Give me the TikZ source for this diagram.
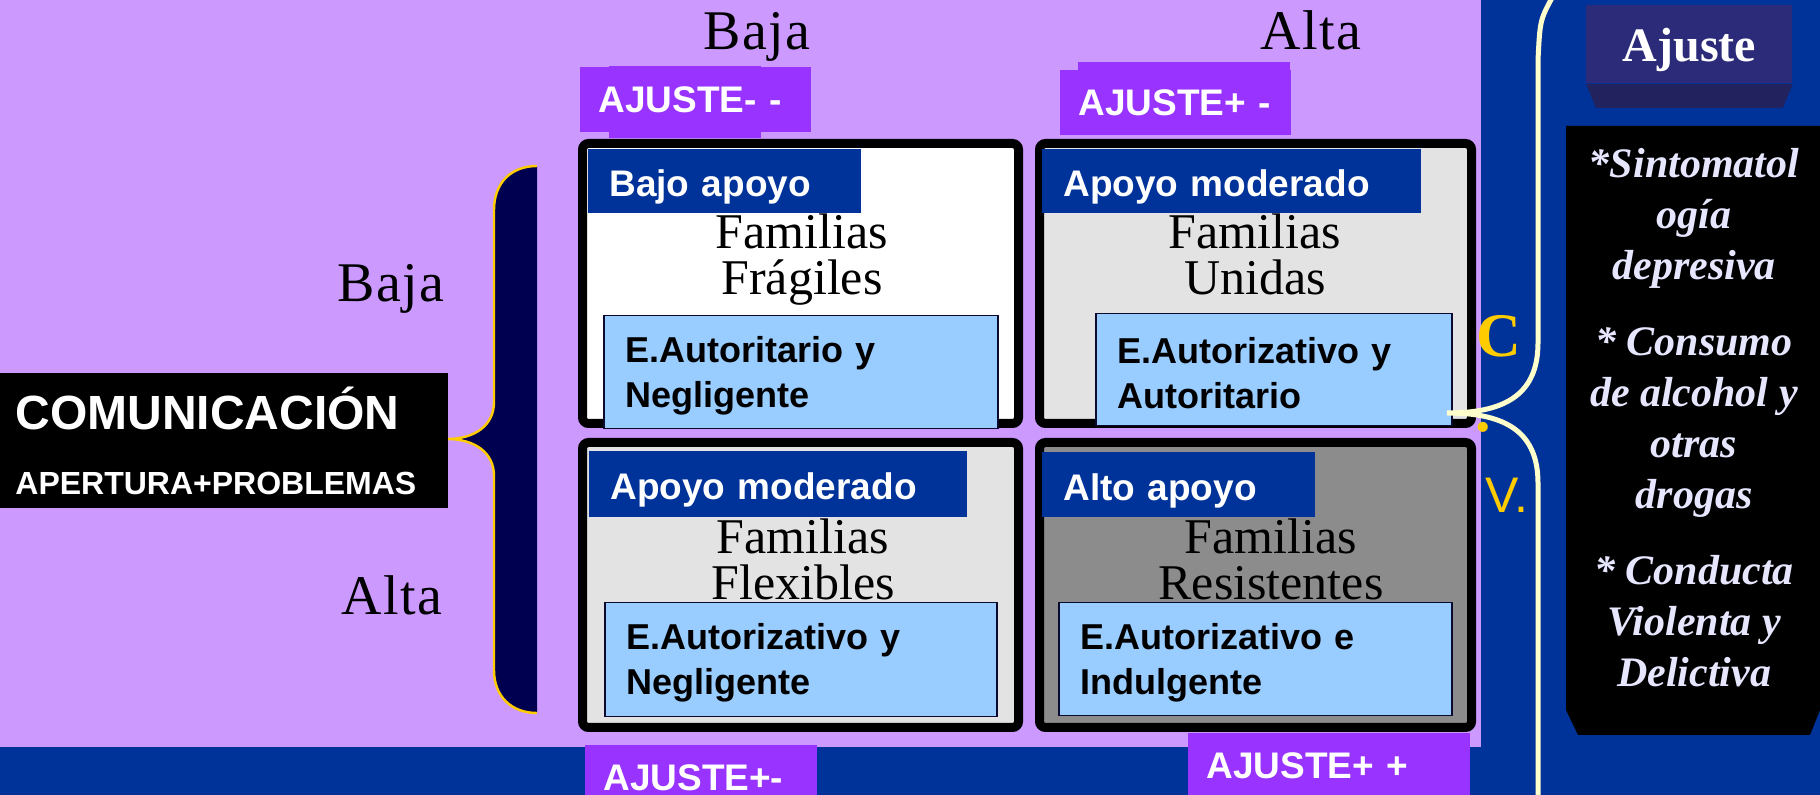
\documentclass[tikz,border=0pt]{standalone}
\usepackage{fontspec}
\setmainfont{Liberation Serif}
\setsansfont{Liberation Sans}
\usepackage{tikz}
\usetikzlibrary{positioning}

\definecolor{lavbg}{HTML}{CC99FF}
\definecolor{slideblue}{HTML}{003399}
\definecolor{tagpurple}{HTML}{9933FF}
\definecolor{hdrblue}{HTML}{003399}
\definecolor{styleblue}{HTML}{99CCFF}
\definecolor{styleline}{HTML}{0A0A30}
\definecolor{quadgray}{HTML}{E3E3E3}
\definecolor{quaddark}{HTML}{8C8C8C}
\definecolor{bracenavy}{HTML}{000050}
\definecolor{braceorange}{HTML}{FFCC00}
\definecolor{creambrace}{HTML}{FFFFCC}
\definecolor{ajusteind}{HTML}{2B2B7A}
\definecolor{ajustebevel}{HTML}{22225F}
\definecolor{listtext}{HTML}{E6E6FF}
\definecolor{cvyellow}{HTML}{FFCC00}

\tikzstyle{quad} = [rectangle, draw=black, line width=4.5pt, rounded corners=3pt, inner sep=0pt]
\tikzstyle{familia} = [anchor=north, align=center, inner sep=0pt, text=black, font=\fontsize{25}{23}\selectfont]
\tikzstyle{eje} = [anchor=base, inner sep=0pt, text=black, font=\fontsize{28}{30}\selectfont\addfontfeature{LetterSpace=3}]
\tikzset{
    header/.style={rectangle, fill=hdrblue, anchor=north west, text=white, align=left,
        font=\sffamily\bfseries\fontsize{18.5}{20}\selectfont, execute at begin node=\rule{0pt}{19pt},
        inner xsep=10.5pt, inner ysep=0pt, minimum height=32pt, text width=#1},
    tag/.style={rectangle, fill=tagpurple, anchor=north west, text=white, align=left,
        font=\sffamily\bfseries\fontsize{18.5}{20}\selectfont,
        inner xsep=9pt, inner ysep=0pt, minimum height=32.5pt, text width=#1},
    estilo/.style={rectangle, fill=styleblue, draw=styleline, line width=0.75pt, anchor=north west,
        text=black, align=left, font=\sffamily\bfseries\fontsize{18}{22.5}\selectfont,
        execute at begin node=\rule{0pt}{16.5pt},
        inner xsep=11pt, inner ysep=0pt, text width=#1}
}

\begin{document}
\begin{tikzpicture}[x=0.5pt, y=-0.5pt]

    \useasboundingbox (0,0) rectangle (1820,795);

    % Slide background
    \fill[slideblue] (0,0) rectangle (1820,795);
    \fill[lavbg] (0,0) rectangle (1481,747);

    % Left brace
    \fill[bracenavy] (537,166) .. controls (512,166) and (494,182) .. (494,210) -- (494,402)
        .. controls (494,426) and (474,439) .. (447,439) .. controls (474,439) and (494,452) .. (494,476)
        -- (494,670) .. controls (494,697) and (512,713) .. (537,713) -- cycle;
    \draw[braceorange, line width=1.2pt] (537,166) .. controls (512,166) and (494,182) .. (494,210) -- (494,402)
        .. controls (494,426) and (474,439) .. (447,439) .. controls (474,439) and (494,452) .. (494,476)
        -- (494,670) .. controls (494,697) and (512,713) .. (537,713);

    % Comunicacion block
    \node (comunicacion) [rectangle, fill=black, anchor=north west, minimum width=224pt, minimum height=67.5pt,
        text width=209pt, inner xsep=7.5pt, align=left, text=white,
        font=\sffamily\bfseries\fontsize{24}{26.5}\selectfont] at (0,373)
        {COMUNICACIÓN\\[6pt]{\fontsize{16}{18}\selectfont APERTURA+PROBLEMAS}};

    % Axis labels
    \node (bajaIzq) [eje] at (391,302) {Baja};
    \node (altaIzq) [eje] at (392,615) {Alta};
    \node (bajaSup) [eje] at (757,50) {Baja};
    \node (altaSup) [eje] at (1311,50) {Alta};

    % Top tags
    \fill[tagpurple] (609,66) rectangle (761,138);
    \fill[tagpurple] (1078,62) rectangle (1290,72);
    \node (ajusteMM) [tag=97.5pt] at (580,67) {AJUSTE- -};
    \node (ajustePM) [tag=97.5pt] at (1060,70) {AJUSTE+ -};

    % Quadrants
    \node (fragiles) [quad, fill=white, minimum width=218pt, minimum height=140pt] at (800.5,283.5) {};
    \node (unidas) [quad, fill=quadgray, minimum width=216pt, minimum height=140pt] at (1255.5,283.5) {};
    \node (flexibles) [quad, fill=quadgray, minimum width=218pt, minimum height=142.5pt] at (800.5,585) {};
    \node (resistentes) [quad, fill=quaddark, minimum width=216pt, minimum height=142.5pt] at (1255.5,585) {};

    % Support headers
    \node (apoyoBajo) [header=115.5pt] at (588,149) {Bajo apoyo};
    \node (apoyoModA) [header=168.5pt] at (1042,149) {Apoyo moderado};
    \node (apoyoModB) [header=168pt, minimum height=33pt] at (589,451) {Apoyo moderado};
    \node (apoyoAlto) [header=115.5pt, minimum height=32.5pt] at (1042,452) {Alto apoyo};

    % Family names
    \node (txtFragiles) [familia] at (802,213) {Familias\\Frágiles};
    \node (txtUnidas) [familia] at (1255,213) {Familias\\Unidas};
    \node (txtFlexibles) [familia] at (803,518) {Familias\\Flexibles};
    \node (txtResistentes) [familia] at (1271,518) {Familias\\Resistentes};

    % Parenting styles
    \node (estiloAN) [estilo=175pt, minimum height=56.5pt] at (603,315) {E.Autoritario y\\Negligente};
    \node (estiloAA) [estilo=156pt, minimum height=56pt] at (1095,313) {E.Autorizativo y\\Autoritario};
    \node (estiloZN) [estilo=174pt, minimum height=57pt] at (604,602) {E.Autorizativo y\\Negligente};
    \node (estiloZI) [estilo=174.5pt, minimum height=56.5pt] at (1058,602) {E.Autorizativo e\\Indulgente};

    % Bottom tags
    \node (ajustePm) [tag=98pt] at (585,745) {AJUSTE+-};
    \node (ajustePP) [tag=123pt] at (1188,733) {AJUSTE+ +};

    % Ajuste block
    \node (ajuste) [rectangle, fill=ajusteind, anchor=north west, minimum width=103pt, minimum height=39pt,
        text depth=0pt, text=white, font=\bfseries\fontsize{24}{26}\selectfont] at (1586,5) {Ajuste};
    \fill[ajustebevel] (ajuste.south west) -- (ajuste.south east) -- ([xshift=-5pt, yshift=-12pt]ajuste.south east)
        -- ([xshift=5pt, yshift=-12pt]ajuste.south west) -- cycle;

    % Effects block
    \fill[black] (1566,126) -- (1820,126) -- (1820,710) -- (1810,735) -- (1578,735) -- (1566,710) -- cycle;
    \node (efectos) [anchor=north, align=center, inner sep=0pt, text=listtext,
        font=\bfseries\itshape\fontsize{21}{25.5}\selectfont] at (1694,148)
        {*Sintomatol\\ogía\\depresiva\\[12.5pt]* Consumo\\de alcohol y\\otras\\drogas\\[12.5pt]* Conducta\\Violenta y\\Delictiva};

    % Right brace
    \coordinate (cvtip) at (1447,413);
    \draw[creambrace, line width=2.5pt] (1553,-4) .. controls (1540,20) .. (1538,60) -- (1538,343)
        .. controls (1538,398) and (1500,413) .. (cvtip)
        .. controls (1500,413) and (1538,428) .. (1538,483) -- (1538,800);

    % C.V. letters
    \node (letraC) [anchor=base west, inner sep=0pt, text=cvyellow, font=\bfseries\fontsize{31}{31}\selectfont] at (1476,357) {C};
    \node (puntoC) [anchor=base west, inner sep=0pt, text=cvyellow, font=\bfseries\fontsize{31}{31}\selectfont] at (1475,432) {.};
    \node (letraV) [anchor=base west, inner sep=0pt, text=cvyellow, font=\sffamily\fontsize{25}{25}\selectfont] at (1485,513) {V.};

\end{tikzpicture}
\end{document}
